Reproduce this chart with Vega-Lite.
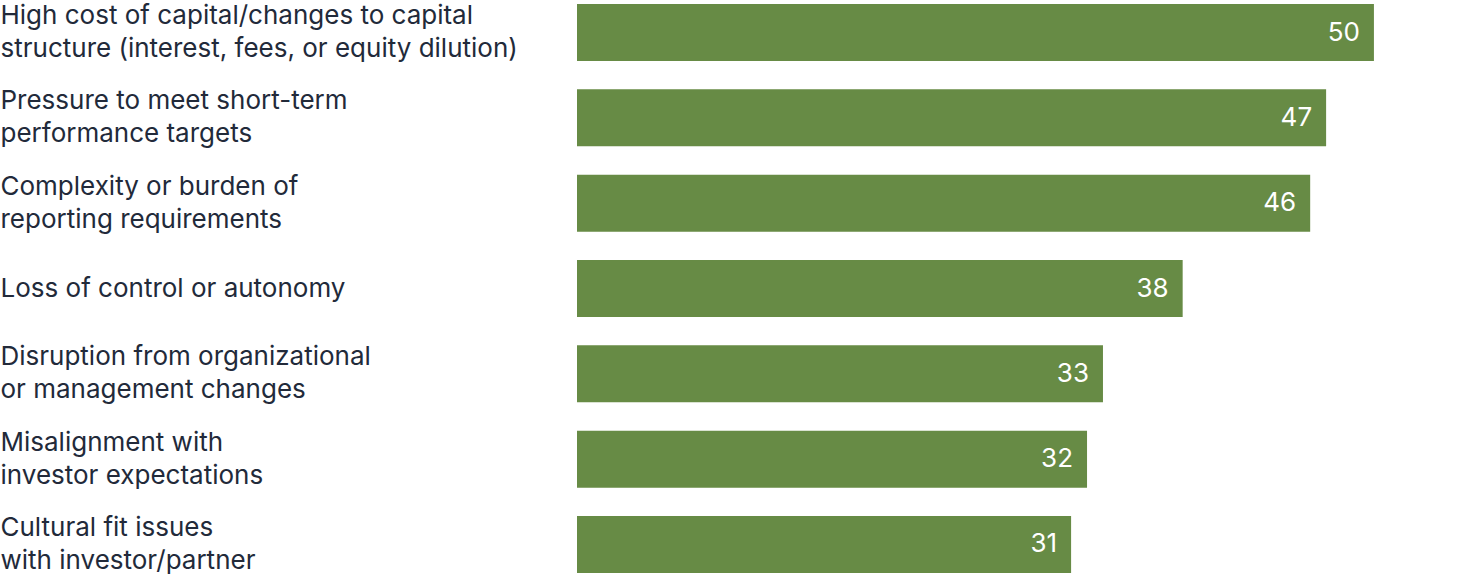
{
  "$schema": "https://vega.github.io/schema/vega-lite/v6.json",
  "autosize": "none",
  "padding": {"left": 577, "top": 0, "right": 0, "bottom": 0},
  "width": 883,
  "height": 577,
  "background": "white",
  "data": {
    "values": [
      {"reason": "High cost of capital/changes to capital|structure (interest, fees, or equity dilution)", "pct": 50},
      {"reason": "Pressure to meet short-term|performance targets", "pct": 47},
      {"reason": "Complexity or burden of|reporting requirements", "pct": 46},
      {"reason": "Loss of control or autonomy", "pct": 38},
      {"reason": "Disruption from organizational|or management changes", "pct": 33},
      {"reason": "Misalignment with|investor expectations", "pct": 32},
      {"reason": "Cultural fit issues|with investor/partner", "pct": 31}
    ]
  },
  "encoding": {
    "y": {
      "field": "reason",
      "type": "nominal",
      "sort": null,
      "scale": {"paddingInner": 0.332, "paddingOuter": 0.047},
      "axis": {
        "title": null,
        "domain": false,
        "ticks": false,
        "labelAlign": "left",
        "labelBaseline": "middle",
        "labelPadding": 577,
        "labelFont": "Inter",
        "labelFontSize": 26,
        "labelLineHeight": 33,
        "labelColor": "#222a3a",
        "labelLimit": 0,
        "labelOffset": {
          "condition": {"test": "indexof(datum.value, '|') >= 0", "value": -16.5},
          "value": 0
        },
        "labelExpr": "split(datum.label, '|')"
      }
    },
    "x": {
      "field": "pct",
      "type": "quantitative",
      "scale": {"domain": [0, 55.4]},
      "axis": null
    }
  },
  "layer": [
    {"mark": {"type": "bar", "color": "#678b45"}},
    {
      "mark": {"type": "text", "align": "right", "baseline": "middle", "dx": -14, "color": "white", "font": "Inter", "fontSize": 26},
      "encoding": {"text": {"field": "pct", "type": "quantitative"}}
    }
  ],
  "config": {"view": {"stroke": null}}
}
